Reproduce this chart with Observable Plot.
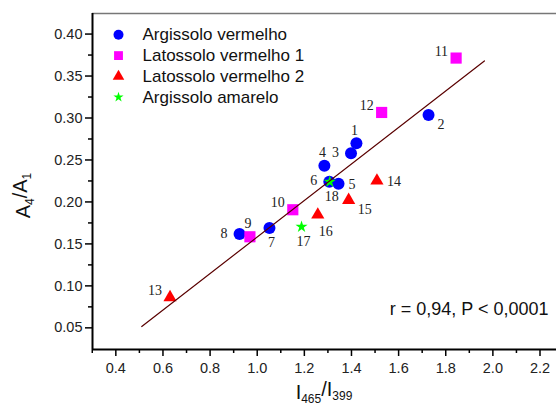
<!DOCTYPE html>
<html><head><meta charset="utf-8">
<script src="https://cdn.jsdelivr.net/npm/d3@7"></script>
<script src="https://cdn.jsdelivr.net/npm/@observablehq/plot@0.6"></script>
<style>body{margin:0;background:#fff} svg{display:block}</style>
</head><body><div id="chart"></div>
<script>
// ---- data ----
const ids    = [1, 2, 3, 4, 5, 6, 7, 8, 9, 10, 11, 12, 13, 14, 15, 16, 17, 18];
const xVals  = [1.421, 1.727, 1.398, 1.285, 1.345, 1.306, 1.052, 0.925, 0.969, 1.151, 1.844, 1.528, 0.630, 1.508, 1.388, 1.257, 1.188, 1.308];
const yVals  = [0.270, 0.3035, 0.258, 0.243, 0.2217, 0.224, 0.169, 0.1617, 0.1585, 0.1907, 0.3714, 0.3066, 0.0862, 0.2252, 0.2022, 0.1847, 0.1704, 0.224];
const groupIdx = [0, 0, 0, 0, 0, 0, 0, 0, 1, 1, 1, 1, 2, 2, 2, 2, 3, 3];
const labelDir = ["n", "se", "w", "n", "e", "w", "s", "w", "n", "nw", "nw", "nw", "nw", "e", "se", "sse", "s", "s"];
const groupNames = ["Argissolo vermelho", "Latossolo vermelho 1", "Latossolo vermelho 2", "Argissolo amarelo"];
const groupColors = ["#0000ff", "#ff00ff", "#ff0000", "#00ff00"];
const groupSymbols = ["circle", "square", "triangle", "star"];
const fitX = [0.51, 1.964];
const fitY = [0.0516, 0.368];
const xTicks = [0.4, 0.6, 0.8, 1.0, 1.2, 1.4, 1.6, 1.8, 2.0, 2.2];
const xMinor = [0.3, 0.5, 0.7, 0.9, 1.1, 1.3, 1.5, 1.7, 1.9, 2.1];
const yTicks = [0.05, 0.10, 0.15, 0.20, 0.25, 0.30, 0.35, 0.40];
const yMinor = [0.075, 0.125, 0.175, 0.225, 0.275, 0.325, 0.375];
const annotation = "r = 0,94, P < 0,0001";
const xDomain = [0.301, 2.27];
const yDomain = [0.0242, 0.4245];

// ---- build ----
const points = ids.map((id, i) => ({id, x: xVals[i], y: yVals[i], g: groupIdx[i], dir: labelDir[i]}));
const fitLine = fitX.map((x, i) => ({x, y: fitY[i]}));

const dotR = [6, 6.3, 4.9, 3.8];
const legR = [5, 5, 4.3, 3.2];
const dirs = {
  n:   {textAnchor: "middle", dx: -2, dy: -13},
  s:   {textAnchor: "middle", dx: 2, dy: 15},
  sse: {textAnchor: "middle", dx: 8, dy: 17},
  e:   {textAnchor: "start", dx: 10, dy: 1},
  w:   {textAnchor: "end", dx: -12, dy: -1},
  nw:  {textAnchor: "end", dx: -8, dy: -7},
  se:  {textAnchor: "start", dx: 9, dy: 9}
};

const marks = [];
marks.push(Plot.ruleY([yDomain[1]], {stroke: "#777", strokeWidth: 1.5}));
// axes
marks.push(Plot.axisY(yTicks, {tickSize: 7, tickPadding: 3, tickFormat: d3.format(".2f"), label: null, fontSize: 14.5, fill: "#222", strokeWidth: 1.5}));
marks.push(Plot.axisY(yMinor, {tickSize: 4, tickFormat: () => "", label: null, strokeWidth: 1.5}));
marks.push(Plot.axisX(xTicks, {tickSize: 7, tickPadding: 6, tickFormat: d3.format(".1f"), label: null, fontSize: 14.5, fill: "#222", strokeWidth: 1.5}));
marks.push(Plot.axisX(xMinor, {tickSize: 4, tickFormat: () => "", label: null, strokeWidth: 1.5}));
marks.push(Plot.ruleX([xDomain[0]], {stroke: "#000", strokeWidth: 2}));
marks.push(Plot.ruleY([yDomain[0]], {stroke: "#000", strokeWidth: 2}));

// points by group
groupNames.forEach((name, gi) => {
  marks.push(Plot.dot(points.filter(p => p.g === gi), {
    x: "x", y: "y", symbol: () => groupSymbols[gi], fill: groupColors[gi], r: dotR[gi], stroke: "none"
  }));
});
// regression line
marks.push(Plot.line(fitLine, {x: "x", y: "y", stroke: "#5a0000", strokeWidth: 1.2}));

// point labels
Object.entries(dirs).forEach(([k, o]) => {
  marks.push(Plot.text(points.filter(p => p.dir === k), {
    x: "x", y: "y", text: d => String(d.id), textAnchor: o.textAnchor, dx: o.dx, dy: o.dy,
    fontFamily: "Liberation Serif, Times New Roman, serif", fontSize: 14, fill: "#222"
  }));
});

// legend
groupNames.forEach((name, gi) => {
  marks.push(Plot.dot([name], {frameAnchor: "top-left", dx: 26, dy: 21.3 + 20.8 * gi,
    symbol: () => groupSymbols[gi], fill: groupColors[gi], r: legR[gi], stroke: "none"}));
  marks.push(Plot.text([name], {frameAnchor: "top-left", dx: 50, dy: 21.3 + 20.8 * gi, text: d => d,
    textAnchor: "start", lineAnchor: "middle", fontSize: 17, fill: "#111",
    fontFamily: "Liberation Sans, Arial, sans-serif"}));
});

// annotation
marks.push(Plot.text([annotation], {frameAnchor: "bottom-right", dx: -8, dy: -40.5, text: d => d,
  textAnchor: "end", lineAnchor: "middle", fontSize: 18, fill: "#111",
  fontFamily: "Liberation Sans, Arial, sans-serif"}));

const chart = Plot.plot({
  width: 556, height: 417,
  marginLeft: 92, marginRight: 0, marginTop: 13, marginBottom: 68,
  x: {domain: xDomain},
  y: {domain: yDomain},
  style: {fontFamily: "Liberation Sans, Arial, sans-serif", fontSize: "14.5px", background: "#fff", color: "#000"},
  marks
});

// axis titles with subscripts
const svg = d3.select(chart);
const yl = svg.append("text")
  .attr("transform", "translate(30,195.5) rotate(-90)")
  .attr("text-anchor", "middle")
  .attr("font-family", "Liberation Sans, Arial, sans-serif")
  .attr("font-size", 20).attr("fill", "#111");
yl.append("tspan").text("A");
yl.append("tspan").attr("font-size", 12).attr("dy", "0.35em").text("4");
yl.append("tspan").attr("dy", "-0.35em").text("/A");
yl.append("tspan").attr("font-size", 12).attr("dy", "0.35em").text("1");

const xl = svg.append("text")
  .attr("transform", "translate(324,399)")
  .attr("text-anchor", "middle")
  .attr("font-family", "Liberation Sans, Arial, sans-serif")
  .attr("font-size", 20).attr("fill", "#111");
xl.append("tspan").text("I");
xl.append("tspan").attr("font-size", 12).attr("dy", "0.35em").text("465");
xl.append("tspan").attr("dy", "-0.35em").text("/I");
xl.append("tspan").attr("font-size", 12).attr("dy", "0.35em").text("399");

document.getElementById("chart").appendChild(chart);
</script>
</body></html>
